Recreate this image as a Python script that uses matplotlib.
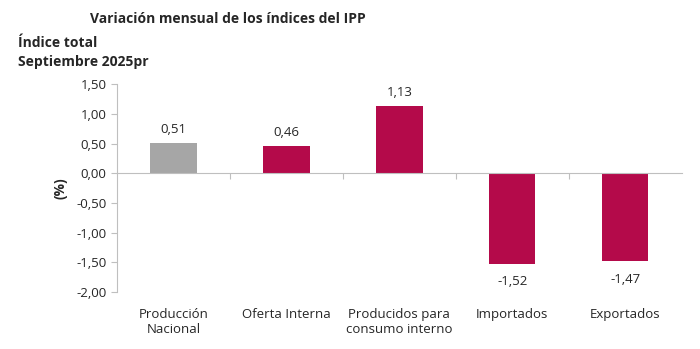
import matplotlib.pyplot as plt
from matplotlib.ticker import FuncFormatter

plt.rcParams['font.family'] = ['Open Sans', 'DejaVu Sans']

# monthly variation of the IPP indices, Sept 2025
categorias = ['Producción\nNacional', 'Oferta Interna', 'Producidos para\nconsumo interno',
              'Importados', 'Exportados']
variacion = [0.51, 0.46, 1.13, -1.52, -1.47]
colores = ['#A6A6A6', '#B40A4A', '#B40A4A', '#B40A4A', '#B40A4A']

texto = '#262626'

fig = plt.figure(figsize=(7, 3.49), dpi=100)
ax = fig.add_axes([0.167, 0.163, 0.807, 0.596])

x = range(len(categorias))
ax.bar(x, variacion, width=0.41, color=colores, zorder=2)

for i, v in enumerate(variacion):
    etiqueta = f'{v:.2f}'.replace('.', ',')
    if v >= 0:
        ax.text(i, v + 0.12, etiqueta, ha='center', va='bottom', fontsize=9.5, color=texto)
    else:
        ax.text(i, v - 0.2, etiqueta, ha='center', va='top', fontsize=9.5, color=texto)

ax.set_ylim(-2.0, 1.5)
ax.set_xlim(-0.5, len(categorias) - 0.5)
ax.set_yticks([1.5, 1.0, 0.5, 0.0, -0.5, -1.0, -1.5, -2.0])
ax.yaxis.set_major_formatter(FuncFormatter(lambda v, p: f'{v:.2f}'.replace('.', ',')))
ax.tick_params(axis='y', labelsize=9.5, colors='#BFBFBF', labelcolor=texto, length=4, width=0.8)

# category axis sits on zero; labels stay at the bottom
ax.spines['bottom'].set_position(('data', 0))
ax.spines['bottom'].set_color('#BFBFBF')
ax.spines['left'].set_color('#BFBFBF')
ax.spines['top'].set_visible(False)
ax.spines['right'].set_visible(False)
ax.set_xticks([i + 0.5 for i in range(len(categorias) - 1)])
ax.set_xticklabels([])
ax.tick_params(axis='x', colors='#BFBFBF', length=4, width=0.8)
for i, c in enumerate(categorias):
    ax.text(i, -2.27, c, ha='center', va='top', fontsize=9.5, color=texto, linespacing=1.15)

ax.set_ylabel('(%)', fontsize=10, fontweight='bold', color=texto, labelpad=6)

fig.text(0.129, 0.945, 'Variación mensual de los índices del IPP', fontsize=10,
         fontweight='bold', color=texto, va='center')
fig.text(0.026, 0.878, 'Índice total', fontsize=10, fontweight='bold', color=texto, va='center')
fig.text(0.026, 0.822, 'Septiembre 2025pr', fontsize=10, fontweight='bold', color=texto, va='center')

fig.savefig('out.png', dpi=100, facecolor='white')
